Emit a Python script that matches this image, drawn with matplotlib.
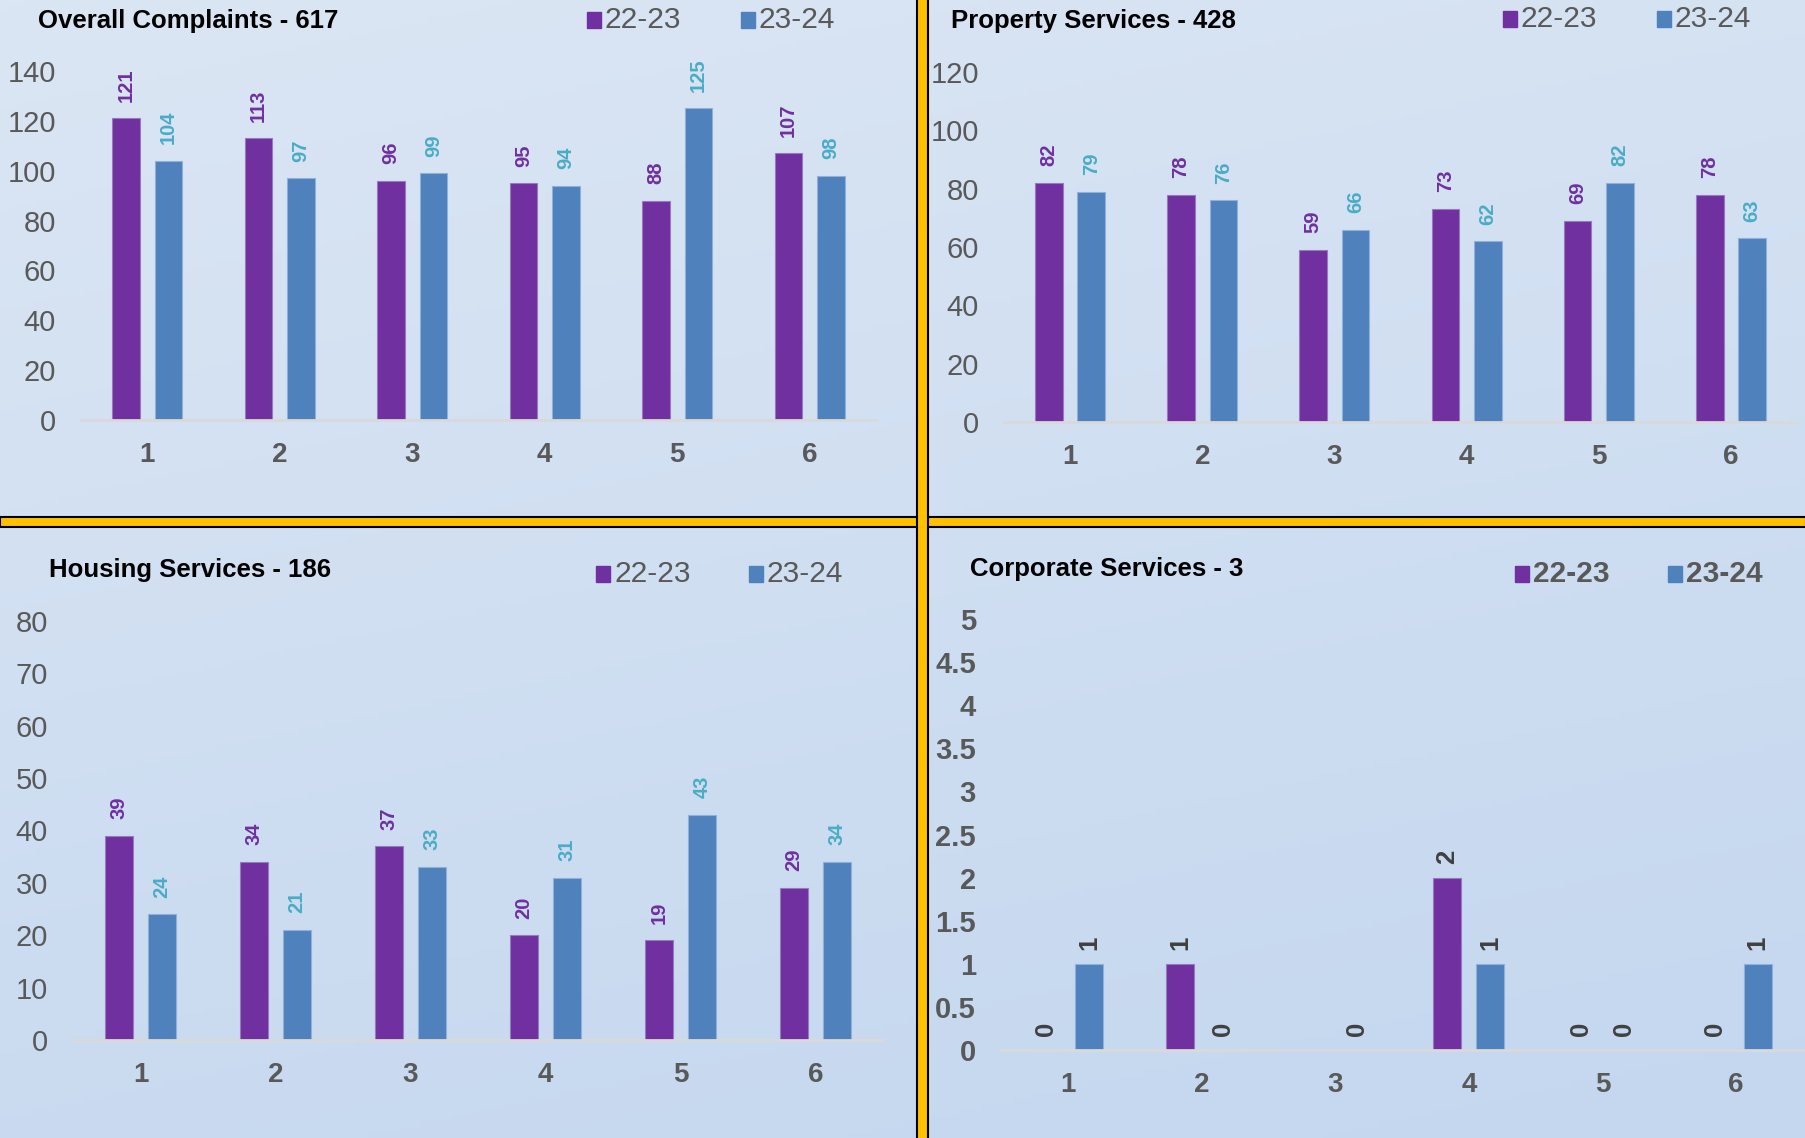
import matplotlib
matplotlib.use("Agg")
import matplotlib.pyplot as plt
from matplotlib.colors import LinearSegmentedColormap
from matplotlib.patches import Rectangle
import numpy as np

W, H = 1806, 1138

categories = ["1", "2", "3", "4", "5", "6"]
series_names = ["22-23", "23-24"]

overall_2223 = [121, 113, 96, 95, 88, 107]
overall_2324 = [104, 97, 99, 94, 125, 98]
property_2223 = [82, 78, 59, 73, 69, 78]
property_2324 = [79, 76, 66, 62, 82, 63]
housing_2223 = [39, 34, 37, 20, 19, 29]
housing_2324 = [24, 21, 33, 31, 43, 34]
corporate_2223 = [0, 1, np.nan, 2, 0, 0]
corporate_2324 = [1, 0, 0, 1, 0, 1]

overall_ticks = [0, 20, 40, 60, 80, 100, 120, 140]
property_ticks = [0, 20, 40, 60, 80, 100, 120]
housing_ticks = [0, 10, 20, 30, 40, 50, 60, 70, 80]
corporate_ticks = [0, 0.5, 1, 1.5, 2, 2.5, 3, 3.5, 4, 4.5, 5]

PURPLE = "#7030A0"
BLUE = "#4F81BD"
TEAL = "#4BACC6"
GREY = "#595959"
DARK = "#404040"
SANS = ["Liberation Sans", "DejaVu Sans"]

fig = plt.figure(figsize=(W / 100, H / 100), dpi=100)

# soft diagonal gradient behind everything
bg = fig.add_axes([0, 0, 1, 1], zorder=-10)
yy, xx = np.mgrid[0:1:200j, 0:1:300j]
grad = 0.75 * yy + 0.25 * xx
cmap = LinearSegmentedColormap.from_list("bg", ["#dbe6f4", "#c4d7ef"])
bg.imshow(grad, cmap=cmap, aspect="auto", extent=[0, 1, 0, 1], origin="upper")
bg.set_axis_off()


def px_axes(left, right, top, bottom):
    """Axes placed from pixel edges of the plot area."""
    return fig.add_axes([left / W, 1 - bottom / H, (right - left) / W, (bottom - top) / H])


def draw_panel(ax, a, b, ticks, label_colors, label_size, gap, bold_ticks=False):
    x = np.arange(len(categories))
    off, width = 0.16, 0.21
    ax.bar(x - off, a, width, color=PURPLE, edgecolor="#9a78c0", linewidth=0.8, zorder=2)
    ax.bar(x + off, b, width, color=BLUE, edgecolor="#8fb0d8", linewidth=0.8, zorder=2)
    for xs, vals, col in ((x - off, a, label_colors[0]), (x + off, b, label_colors[1])):
        for xi, v in zip(xs, vals):
            if np.isnan(v):
                continue
            ax.annotate(f"{v:g}", (xi, v), xytext=(0, gap), textcoords="offset points",
                        rotation=90, ha="center", va="bottom", color=col,
                        fontsize=label_size, fontweight="bold", family=SANS,
                        annotation_clip=False)
    ax.set_xlim(-0.5, len(categories) - 0.5)
    ax.set_ylim(0, ticks[-1])
    ax.set_xticks(x)
    ax.set_xticklabels(categories, fontsize=20, fontweight="bold", color=GREY, family=SANS)
    ax.set_yticks(ticks)
    ax.set_yticklabels([f"{t:g}" for t in ticks], fontsize=21, color=GREY, family=SANS,
                       fontweight="bold" if bold_ticks else "normal")
    ax.tick_params(axis="both", length=0)
    ax.tick_params(axis="y", pad=18)
    ax.tick_params(axis="x", pad=16)
    ax.set_facecolor("none")
    for side in ("top", "right", "left"):
        ax.spines[side].set_visible(False)
    ax.spines["bottom"].set_color("#d9d9d9")
    ax.spines["bottom"].set_linewidth(2)


def header(title, tx, ty, lx, ly, bold_legend=False):
    fig.text(tx / W, 1 - ty / H, title, fontsize=18.5, fontweight="bold", color="black",
             family=SANS, ha="left", va="center")
    for sx, name, col in ((lx[0], series_names[0], PURPLE), (lx[1], series_names[1], BLUE)):
        fig.add_artist(Rectangle((sx / W, 1 - (ly + 8) / H), 14 / W, 16 / H,
                                 transform=fig.transFigure, color=col))
        fig.text((sx + 18) / W, 1 - ly / H, name, fontsize=21.5, color=GREY, family=SANS,
                 fontweight="bold" if bold_legend else "normal", ha="left", va="center")


ax1 = px_axes(81, 876, 71, 420)
draw_panel(ax1, overall_2223, overall_2324, overall_ticks, (PURPLE, TEAL), 14.5, 12)
header(f"Overall Complaints - {sum(overall_2324)}", 38, 21, (587, 741), 20)

ax2 = px_axes(1004, 1797, 72, 422)
draw_panel(ax2, property_2223, property_2324, property_ticks, (PURPLE, TEAL), 14.5, 12)
header(f"Property Services - {sum(property_2324)}", 951, 21, (1503, 1657), 19)

ax3 = px_axes(73, 883, 621, 1040)
draw_panel(ax3, housing_2223, housing_2324, housing_ticks, (PURPLE, TEAL), 14.5, 12)
header(f"Housing Services - {sum(housing_2324)}", 49, 570, (596, 749), 574)

ax4 = px_axes(1001, 1803, 619, 1050)
draw_panel(ax4, corporate_2223, corporate_2324, corporate_ticks, (DARK, DARK), 18.5, 10,
           bold_ticks=True)
header(f"Corporate Services - {int(np.nansum(corporate_2324))}", 970, 569, (1515, 1668), 574,
       bold_legend=True)

# yellow dividers between the four charts
fig.add_artist(Rectangle((0, 1 - 527 / H), 1, 10 / H, transform=fig.transFigure,
                         facecolor="#FFC000", edgecolor="black", linewidth=1.5, zorder=5))
fig.add_artist(Rectangle((917 / W, -0.01), 11 / W, 1.02, transform=fig.transFigure,
                         facecolor="#FFC000", edgecolor="black", linewidth=1.5, zorder=6))

fig.savefig("out.png", dpi=100)
